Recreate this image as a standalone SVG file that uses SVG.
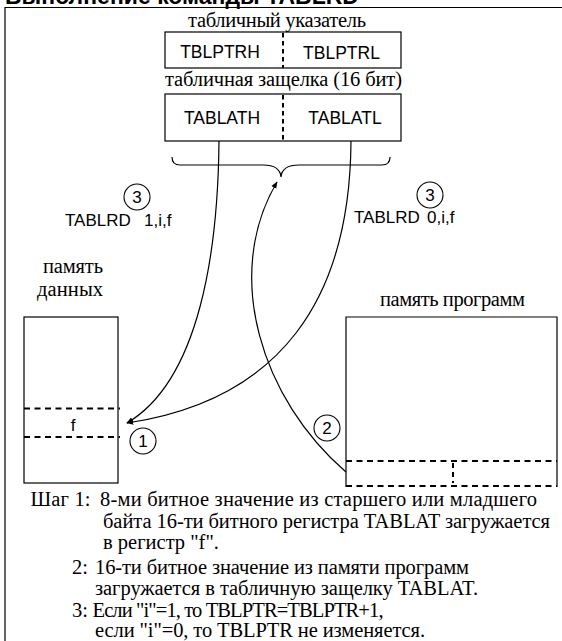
<svg xmlns="http://www.w3.org/2000/svg" width="562" height="641" viewBox="0 0 562 641">
<style>
.ln{fill:none;stroke:#000;stroke-width:1.2}
.box{fill:#fff;stroke:#000;stroke-width:1.2}
.dv{fill:none;stroke:#000;stroke-width:2;stroke-dasharray:4.5,3.5}
.dh{fill:none;stroke:#000;stroke-width:2;stroke-dasharray:6,4.5}
.sans{font-family:"Liberation Sans",Arial,sans-serif;fill:#000}
.serif{font-family:"Liberation Serif","Times New Roman",serif;fill:#000}
.reg{font-size:17.5px;text-anchor:middle}
.cap{font-size:20.5px}
.num{font-size:17px;text-anchor:middle}
.body{font-size:20.5px}
.circ{fill:#fff;stroke:#000;stroke-width:1.1}
</style>
<defs>
<marker id="ah" viewBox="0 0 10 10" refX="9" refY="5" markerWidth="7" markerHeight="7" markerUnits="userSpaceOnUse" orient="auto">
<path d="M0,1 L10,5 L0,9 z" fill="#000"/>
</marker>
</defs>
<rect width="562" height="641" fill="#fff"/>
<text class="sans" x="5" y="4" font-size="23" font-weight="bold">Выполнение команды TABLRD</text>
<path class="ln" d="M5,641 V7.5 H562"/>

<g id="tblptr">
<text class="serif cap" x="188" y="27" textLength="178">табличный указатель</text>
<rect class="box" x="165" y="32" width="236" height="36"/>
<line class="dv" x1="283" y1="33" x2="283" y2="68"/>
<text class="sans reg" x="220" y="58">TBLPTRH</text>
<text class="sans reg" x="341.5" y="59">TBLPTRL</text>
</g>

<g id="tablat">
<text class="serif cap" x="165" y="86" textLength="237">табличная защелка (16 бит)</text>
<rect class="box" x="165" y="94" width="236" height="47"/>
<line class="dv" x1="283" y1="95" x2="283" y2="141"/>
<text class="sans reg" x="222" y="124">TABLATH</text>
<text class="sans reg" x="345" y="124">TABLATL</text>
</g>

<g id="brace">
<path class="ln" d="M172,157 Q172,165 180,165 L263,165 Q280,165 281,177 Q282,165 299,165 L382,165 Q390,165 390,157"/>
</g>

<g id="data-memory">
<text class="serif cap" x="43" y="273" textLength="60">память</text>
<text class="serif cap" x="37" y="296" textLength="66">данных</text>
<rect class="box" x="24" y="317" width="94" height="166"/>
<line class="dh" x1="24" y1="408.5" x2="120" y2="408.5"/>
<line class="dh" x1="24" y1="437" x2="120" y2="437"/>
<text class="sans num" x="73" y="431">f</text>
</g>

<g id="program-memory">
<text class="serif cap" x="380" y="306" textLength="145">память программ</text>
<path class="ln" d="M346,487 V317 H557 V487"/>
<line class="dh" x1="346" y1="461" x2="557" y2="461"/>
<line class="dh" x1="346" y1="486" x2="557" y2="486"/>
<line x1="453" y1="463" x2="453" y2="483" stroke="#000" stroke-width="2" stroke-dasharray="5,4"/>
</g>

<g id="connectors">
<path class="ln" d="M219,141 C218,250 200,380 127,423" marker-end="url(#ah)"/>
<path class="ln" d="M351,141 C350,300 280,400 127,423" marker-end="url(#ah)"/>
<path class="ln" d="M346,472 C262,400 222,275 277,182" marker-end="url(#ah)"/>
</g>

<g id="label-tablrd1">
<circle class="circ" cx="137" cy="197" r="13"/>
<text class="sans num" x="137" y="203">3</text>
<text class="sans" x="65" y="226" font-size="17">TABLRD</text>
<text class="sans" x="144" y="226" font-size="17">1,i,f</text>
</g>

<g id="label-tablrd0">
<circle class="circ" cx="430" cy="195" r="13"/>
<text class="sans num" x="430" y="201">3</text>
<text class="sans" x="354" y="222.5" font-size="17">TABLRD</text>
<text class="sans" x="427" y="222.5" font-size="17">0,i,f</text>
</g>

<g id="step1">
<circle class="circ" cx="143" cy="441" r="13"/>
<text class="sans num" x="143" y="447">1</text>
</g>

<g id="step2">
<circle class="circ" cx="327" cy="428" r="13"/>
<text class="sans num" x="327" y="434">2</text>
</g>

<g id="caption">
<text class="serif body" x="30.5" y="506" textLength="60">Шаг 1:</text>
<text class="serif body" x="100" y="506" textLength="437">8-ми битное значение из старшего или младшего</text>
<text class="serif body" x="103" y="528" textLength="447">байта 16-ти битного регистра TABLAT загружается</text>
<text class="serif body" x="103" y="549">в регистр "f".</text>
<text class="serif body" x="72" y="574">2:</text>
<text class="serif body" x="95" y="574" textLength="374">16-ти битное значение из памяти программ</text>
<text class="serif body" x="95" y="595" textLength="383">загружается в табличную защелку TABLAT.</text>
<text class="serif body" x="72" y="617">3:</text>
<text class="serif body" x="92.5" y="617" textLength="291">Если "i"=1, то TBLPTR=TBLPTR+1,</text>
<text class="serif body" x="95" y="637" textLength="330">если "i"=0, то TBLPTR не изменяется.</text>
</g>
</svg>
